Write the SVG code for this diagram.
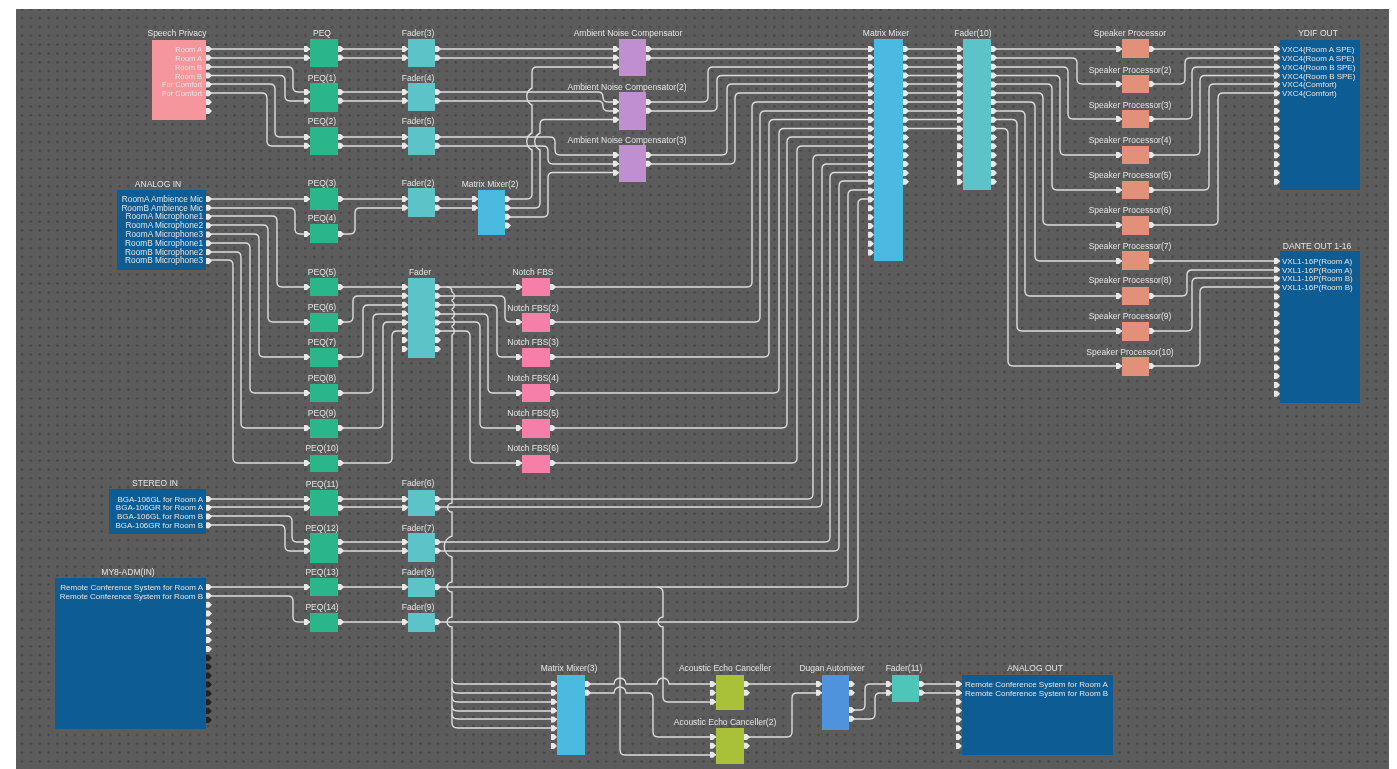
<svg xmlns="http://www.w3.org/2000/svg" xmlns:xlink="http://www.w3.org/1999/xlink" width="1397" height="769" viewBox="0 0 1397 769">
<style>
text{font-family:"Liberation Sans",Arial,sans-serif;font-size:8.5px;fill:#e4e4e4}
.c{text-anchor:middle}.r{text-anchor:end}
#stereo-in text:not(.c),#my8-in text:not(.c),#ydif-out text:not(.c),#dante-out text:not(.c),#analog-out text:not(.c){font-size:8px}
#analog-in text:not(.c){font-size:8.3px}
#speech-privacy text:not(.c){font-size:7.5px}
.w{fill:#e8e8e8}.k{fill:#222}
#conn path{fill:none;stroke:#dcdcdc;stroke-width:1.4;stroke-linecap:round}
.peq{fill:#2ab58a}.fad{fill:#5cc4c8}.mm{fill:#4bbae0}.anc{fill:#c08fd0}.notch{fill:#f57fa9}.sp{fill:#e2907a}.pan{fill:#0d5c94}.aec{fill:#a8c137}
</style>
<defs>
<pattern id="dots" width="8.85" height="8.85" patternUnits="userSpaceOnUse" patternTransform="translate(0 49)">
<circle cx="4.4" cy="4.4" r="1.3" fill="#464646"/>
</pattern>
<filter id="soft" x="0" y="0" width="100%" height="100%"><feGaussianBlur stdDeviation="0.45"/></filter>
<path id="i" d="M-6-3H-3L0 0-3 3H-6Z"/>
<path id="o" d="M0-3H3L6 0 3 3H0Z"/>
<g id="i2"><use href="#i"/><use href="#i" y="8.85"/></g>
<g id="o2"><use href="#o"/><use href="#o" y="8.85"/></g>
<g id="i3"><use href="#i2"/><use href="#i" y="17.7"/></g>
<g id="i8"><use href="#i2"/><use href="#i2" y="17.7"/><use href="#i2" y="35.4"/><use href="#i2" y="53.1"/></g>
<g id="o8"><use href="#o2"/><use href="#o2" y="17.7"/><use href="#o2" y="35.4"/><use href="#o2" y="53.1"/></g>
</defs>
<rect width="1397" height="769" fill="#fff"/>
<g filter="url(#soft)">
<rect x="16" y="9" width="1373" height="760" fill="#5c5c5c"/>
<rect x="16" y="9" width="1373" height="760" fill="url(#dots)"/>
<g id="conn">
<path d="M206 49H310M206 58H310M206 67H288q5 0 5 5V87q0 5 5 5H310M206 75.5H280q5 0 5 5V96q0 5 5 5H310M206 84H270q5 0 5 5V132q0 5 5 5H310M206 93H262q5 0 5 5V141q0 5 5 5H310"/>
<path d="M338 49H408M338 58H408M338 92H408M338 101H408M338 137H408M338 146H408"/>
<path d="M435 49H619M435 58H619M435 92H598q5 0 5 5q0 5 5 5H619M435 101H598q5 0 5 5q0 5 5 5H619M435 137H550q5 0 5 5V150q0 5 5 5H619M435 146H543q5 0 5 5V159q0 5 5 5H619"/>
<path d="M206 199H310M206 208H290q5 0 5 5V229q0 5 5 5H310M338 199H408M338 234H350q5 0 5-5V213q0-5 5-5H408M435 199H478M435 208H478"/>
<path d="M505 199H527q5 0 5-5V150a9.5 9.5 0 0 1 0-17V105a9.5 9.5 0 0 1 0-17V72q0-5 5-5H619"/>
<path d="M505 208H535q5 0 5-5V150a9.5 9.5 0 0 1 0-17V124.500q0-5 5-5H619"/>
<path d="M505 217H543q5 0 5-5V177.500q0-5 5-5H619"/>
<path d="M646 49H874M646 58H874M646 102H703q5 0 5-5V72q0-5 5-5H874M646 111H712q5 0 5-5V80.500q0-5 5-5H874M646 155H722q5 0 5-5V89q0-5 5-5H874M646 164H730q5 0 5-5V98q0-5 5-5H874"/>
<path d="M550 287H747q5 0 5-5V107q0-5 5-5H874M550 322H755q5 0 5-5V116q0-5 5-5H874M550 357H764q5 0 5-5V124.500q0-5 5-5H874M550 393H774q5 0 5-5V133.500q0-5 5-5H874M550 428H782q5 0 5-5V142q0-5 5-5H874M550 463H792q5 0 5-5V151q0-5 5-5H874"/>
<path d="M435 499H808q5 0 5-5V160q0-5 5-5H874M435 507H817q5 0 5-5V169q0-5 5-5H874M435 542H825q5 0 5-5V177.500q0-5 5-5H874M435 551H834q5 0 5-5V186q0-5 5-5H874M435 587H843q5 0 5-5V195q0-5 5-5H874M435 622H853q5 0 5-5V204q0-5 5-5H874"/>
<path d="M903 49H963M903 58H963M903 67H963M903 75.500H963M903 84H963M903 93H963M903 102H963M903 111H963M903 119.500H963M903 128.500H963"/>
<path d="M991 49H1122M991 58H1072q5 0 5 5V79q0 5 5 5H1122M991 67H1063q5 0 5 5V114q0 5 5 5H1122M991 75.500H1055q5 0 5 5V150q0 5 5 5H1122M991 84H1047q5 0 5 5V185q0 5 5 5H1122M991 93H1038q5 0 5 5V220q0 5 5 5H1122M991 102H1030q5 0 5 5V256q0 5 5 5H1122M991 111H1020q5 0 5 5V291q0 5 5 5H1122M991 119.500H1012q5 0 5 5V326q0 5 5 5H1122M991 128.500H1003q5 0 5 5V361q0 5 5 5H1122"/>
<path d="M1149 49H1280M1149 84H1180q5 0 5-5V63q0-5 5-5H1280M1149 119H1187q5 0 5-5V72q0-5 5-5H1280M1149 155H1195q5 0 5-5V80.500q0-5 5-5H1280M1149 190H1204q5 0 5-5V89q0-5 5-5H1280M1149 225H1213q5 0 5-5V98q0-5 5-5H1280"/>
<path d="M1149 261H1280M1149 296H1182q5 0 5-5V275q0-5 5-5H1280M1149 331H1187q5 0 5-5V283q0-5 5-5H1280M1149 366H1195q5 0 5-5V292q0-5 5-5H1280"/>
<path d="M206 216H272q5 0 5 5V282q0 5 5 5H310M206 225H263q5 0 5 5V317q0 5 5 5H310M206 234H254q5 0 5 5V352q0 5 5 5H310M206 243H245q5 0 5 5V388q0 5 5 5H310M206 252H236q5 0 5 5V423q0 5 5 5H310M206 260H228q5 0 5 5V458q0 5 5 5H310"/>
<path d="M338 287H408M338 322H348q5 0 5-5V301q0-5 5-5H408M338 357H358q5 0 5-5V310q0-5 5-5H408M338 393H368q5 0 5-5V319q0-5 5-5H408M338 428H378q5 0 5-5V327q0-5 5-5H408M338 463H387q5 0 5-5V336q0-5 5-5H408"/>
<path d="M435 287H522M435 296H500q5 0 5 5V317q0 5 5 5H522M435 305H492q5 0 5 5V352q0 5 5 5H522M435 314H483q5 0 5 5V388q0 5 5 5H522M435 322H475q5 0 5 5V423q0 5 5 5H522M435 331H465q5 0 5 5V458q0 5 5 5H522"/>
<path d="M206 499H310M206 507H310M206 516H287q5 0 5 5V537q0 5 5 5H310M206 525H280q5 0 5 5V546q0 5 5 5H310M206 587H310M206 596H288q5 0 5 5V617q0 5 5 5H310"/>
<path d="M338 499H408M338 507H408M338 542H408M338 551H408M338 587H408M338 622H408"/>
<path d="M447 287q5 0 5 5a4.500 4.500 0 0 1 0 8V301a4.500 4.500 0 0 1 0 8V310a4.500 4.500 0 0 1 0 8a4.500 4.500 0 0 1 0 8V327a4.500 4.500 0 0 1 0 8V503a4.500 4.500 0 0 0 0 9V536a11 11 0 0 0 0 21V582a5 5 0 0 0 0 10V617a5 5 0 0 0 0 10V723q0 5 6 5H557"/>
<path d="M452 679q0 5 6 5H557M452 688q0 5 6 5H557M452 697q0 5 6 5H557M452 706q0 5 6 5H557M452 714q0 5 6 5H557"/>
<path d="M657 587q6 0 6 6V617a5 5 0 0 0 0 10V697q0 5 5 5H716"/>
<path d="M614 622q6 0 6 6V750q0 5 5 5H716"/>
<path d="M585 684H614a6 6 0 0 1 12 0H657a6 6 0 0 1 12 0H716M585 693H614a6 6 0 0 1 12 0H648q5 0 5 5V732q0 5 5 5H716"/>
<path d="M744 684H822M744 737H787q5 0 5-5V698q0-5 5-5H822M849 710H860q5 0 5-5V689q0-5 5-5H892M849 719H870q5 0 5-5V698q0-5 5-5H892M919 684H962M919 693H962"/>
</g>
<g id="speech-privacy"><rect x="152" y="40" width="54" height="80" fill="#f5959c"/><text class="c" x="177" y="36">Speech Privacy</text>
<text class="r" x="202" y="52">Room A</text><text class="r" x="202" y="61">Room A</text><text class="r" x="202" y="70">Room B</text><text class="r" x="202" y="78.500">Room B</text><text class="r" x="202" y="87">For Comfort</text><text class="r" x="202" y="96">For Comfort</text>
<use href="#o8" class="w" x="206" y="49"/></g>
<g id="analog-in"><rect x="117" y="190" width="89" height="80" class="pan"/><text class="c" x="158" y="187">ANALOG IN</text>
<text class="r" x="203" y="202">RoomA Ambience Mic</text><text class="r" x="203" y="211">RoomB Ambience Mic</text><text class="r" x="203" y="219">RoomA Microphone1</text><text class="r" x="203" y="228">RoomA Microphone2</text><text class="r" x="203" y="237">RoomA Microphone3</text><text class="r" x="203" y="246">RoomB Microphone1</text><text class="r" x="203" y="255">RoomB Microphone2</text><text class="r" x="203" y="263">RoomB Microphone3</text>
<use href="#o8" class="w" x="206" y="199"/></g>
<g id="stereo-in"><rect x="109" y="489" width="97" height="45" class="pan"/><text class="c" x="155" y="486">STEREO IN</text>
<text class="r" x="203" y="502">BGA-106GL for Room A</text><text class="r" x="203" y="510">BGA-106GR for Room A</text><text class="r" x="203" y="519">BGA-106GL for Room B</text><text class="r" x="203" y="528">BGA-106GR for Room B</text>
<use href="#o2" class="w" x="206" y="499"/><use href="#o2" class="w" x="206" y="516.500"/></g>
<g id="my8-in"><rect x="55" y="578" width="151" height="151" class="pan"/><text class="c" x="128" y="575">MY8-ADM(IN)</text>
<text class="r" x="203" y="590">Remote Conference System for Room A</text><text class="r" x="203" y="599">Remote Conference System for Room B</text>
<use href="#o8" class="w" x="206" y="587"/><use href="#o8" class="k" x="206" y="658"/></g>
<g id="peq"><rect x="310" y="39" width="28" height="28" class="peq"/><text class="c" x="322" y="36">PEQ</text><use href="#i2" class="w" x="310" y="49"/><use href="#o2" class="w" x="338" y="49"/></g>
<g id="peq1"><rect x="310" y="83" width="28" height="29" class="peq"/><text class="c" x="322" y="81">PEQ(1)</text><use href="#i2" class="w" x="310" y="92"/><use href="#o2" class="w" x="338" y="92"/></g>
<g id="peq2"><rect x="310" y="127" width="28" height="28" class="peq"/><text class="c" x="322" y="124">PEQ(2)</text><use href="#i2" class="w" x="310" y="137"/><use href="#o2" class="w" x="338" y="137"/></g>
<g id="peq3"><rect x="310" y="188" width="28" height="22" class="peq"/><text class="c" x="322" y="186">PEQ(3)</text><use href="#i" class="w" x="310" y="199"/><use href="#o" class="w" x="338" y="199"/></g>
<g id="peq4"><rect x="310" y="224" width="28" height="19" class="peq"/><text class="c" x="322" y="221">PEQ(4)</text><use href="#i" class="w" x="310" y="234"/><use href="#o" class="w" x="338" y="234"/></g>
<g id="peq5"><rect x="310" y="278" width="28" height="18" class="peq"/><text class="c" x="322" y="275">PEQ(5)</text><use href="#i" class="w" x="310" y="287"/><use href="#o" class="w" x="338" y="287"/></g>
<g id="peq6"><rect x="310" y="313" width="28" height="19" class="peq"/><text class="c" x="322" y="310">PEQ(6)</text><use href="#i" class="w" x="310" y="322"/><use href="#o" class="w" x="338" y="322"/></g>
<g id="peq7"><rect x="310" y="348" width="28" height="19" class="peq"/><text class="c" x="322" y="345">PEQ(7)</text><use href="#i" class="w" x="310" y="357"/><use href="#o" class="w" x="338" y="357"/></g>
<g id="peq8"><rect x="310" y="384" width="28" height="18" class="peq"/><text class="c" x="322" y="381">PEQ(8)</text><use href="#i" class="w" x="310" y="393"/><use href="#o" class="w" x="338" y="393"/></g>
<g id="peq9"><rect x="310" y="419" width="28" height="19" class="peq"/><text class="c" x="322" y="416">PEQ(9)</text><use href="#i" class="w" x="310" y="428"/><use href="#o" class="w" x="338" y="428"/></g>
<g id="peq10"><rect x="310" y="455" width="28" height="17" class="peq"/><text class="c" x="322" y="451">PEQ(10)</text><use href="#i" class="w" x="310" y="463"/><use href="#o" class="w" x="338" y="463"/></g>
<g id="peq11"><rect x="310" y="490" width="28" height="26" class="peq"/><text class="c" x="322" y="487">PEQ(11)</text><use href="#i2" class="w" x="310" y="499"/><use href="#o2" class="w" x="338" y="499"/></g>
<g id="peq12"><rect x="310" y="533" width="28" height="30" class="peq"/><text class="c" x="322" y="531">PEQ(12)</text><use href="#i2" class="w" x="310" y="542"/><use href="#o2" class="w" x="338" y="542"/></g>
<g id="peq13"><rect x="310" y="578" width="28" height="18" class="peq"/><text class="c" x="322" y="575">PEQ(13)</text><use href="#i" class="w" x="310" y="587"/><use href="#o" class="w" x="338" y="587"/></g>
<g id="peq14"><rect x="310" y="613" width="28" height="19" class="peq"/><text class="c" x="322" y="610">PEQ(14)</text><use href="#i" class="w" x="310" y="622"/><use href="#o" class="w" x="338" y="622"/></g>
<g id="fader3"><rect x="408" y="39" width="27" height="28" class="fad"/><text class="c" x="418" y="36">Fader(3)</text><use href="#i2" class="w" x="408" y="49"/><use href="#o2" class="w" x="435" y="49"/></g>
<g id="fader4"><rect x="408" y="83" width="27" height="28" class="fad"/><text class="c" x="418" y="81">Fader(4)</text><use href="#i2" class="w" x="408" y="92"/><use href="#o2" class="w" x="435" y="92"/></g>
<g id="fader5"><rect x="408" y="127" width="27" height="28" class="fad"/><text class="c" x="418" y="124">Fader(5)</text><use href="#i2" class="w" x="408" y="137"/><use href="#o2" class="w" x="435" y="137"/></g>
<g id="fader2"><rect x="408" y="188" width="27" height="29" class="fad"/><text class="c" x="418" y="186">Fader(2)</text><use href="#i2" class="w" x="408" y="199"/><use href="#o2" class="w" x="435" y="199"/></g>
<g id="fader"><rect x="408" y="278" width="27" height="80" class="fad"/><text class="c" x="420" y="275">Fader</text><use href="#i8" class="w" x="408" y="287"/><use href="#o8" class="w" x="435" y="287"/></g>
<g id="fader6"><rect x="408" y="490" width="27" height="26" class="fad"/><text class="c" x="418" y="486">Fader(6)</text><use href="#i2" class="w" x="408" y="499"/><use href="#o2" class="w" x="435" y="499"/></g>
<g id="fader7"><rect x="408" y="533" width="27" height="29" class="fad"/><text class="c" x="418" y="531">Fader(7)</text><use href="#i2" class="w" x="408" y="542"/><use href="#o2" class="w" x="435" y="542"/></g>
<g id="fader8"><rect x="408" y="578" width="27" height="19" class="fad"/><text class="c" x="418" y="575">Fader(8)</text><use href="#i" class="w" x="408" y="587"/><use href="#o" class="w" x="435" y="587"/></g>
<g id="fader9"><rect x="408" y="613" width="27" height="19" class="fad"/><text class="c" x="418" y="610">Fader(9)</text><use href="#i" class="w" x="408" y="622"/><use href="#o" class="w" x="435" y="622"/></g>
<g id="matrix-mixer2"><rect x="478" y="190" width="27" height="45" class="mm"/><text class="c" x="490" y="187">Matrix Mixer(2)</text><use href="#i2" class="w" x="478" y="199"/><use href="#o2" class="w" x="505" y="199"/><use href="#o2" class="w" x="505" y="216.700"/></g>
<g id="anc1"><rect x="619" y="39" width="27" height="37" class="anc"/><text class="c" x="628" y="36">Ambient Noise Compensator</text><use href="#i3" class="w" x="619" y="49"/><use href="#o2" class="w" x="646" y="49"/></g>
<g id="anc2"><rect x="619" y="92" width="27" height="38" class="anc"/><text class="c" x="627" y="90">Ambient Noise Compensator(2)</text><use href="#i3" class="w" x="619" y="102"/><use href="#o2" class="w" x="646" y="102"/></g>
<g id="anc3"><rect x="619" y="145" width="27" height="37" class="anc"/><text class="c" x="627" y="143">Ambient Noise Compensator(3)</text><use href="#i3" class="w" x="619" y="155"/><use href="#o2" class="w" x="646" y="155"/></g>
<g id="notch1"><rect x="522" y="278" width="28" height="18" class="notch"/><text class="c" x="533" y="275">Notch FBS</text><use href="#i" class="w" x="522" y="287"/><use href="#o" class="w" x="550" y="287"/></g>
<g id="notch2"><rect x="522" y="313" width="28" height="19" class="notch"/><text class="c" x="533" y="311">Notch FBS(2)</text><use href="#i" class="w" x="522" y="322"/><use href="#o" class="w" x="550" y="322"/></g>
<g id="notch3"><rect x="522" y="348" width="28" height="19" class="notch"/><text class="c" x="533" y="345">Notch FBS(3)</text><use href="#i" class="w" x="522" y="357"/><use href="#o" class="w" x="550" y="357"/></g>
<g id="notch4"><rect x="522" y="384" width="28" height="18" class="notch"/><text class="c" x="533" y="381">Notch FBS(4)</text><use href="#i" class="w" x="522" y="393"/><use href="#o" class="w" x="550" y="393"/></g>
<g id="notch5"><rect x="522" y="419" width="28" height="19" class="notch"/><text class="c" x="533" y="416">Notch FBS(5)</text><use href="#i" class="w" x="522" y="428"/><use href="#o" class="w" x="550" y="428"/></g>
<g id="notch6"><rect x="522" y="455" width="28" height="18" class="notch"/><text class="c" x="533" y="451">Notch FBS(6)</text><use href="#i" class="w" x="522" y="463"/><use href="#o" class="w" x="550" y="463"/></g>
<g id="matrix-mixer"><rect x="874" y="39" width="29" height="222" class="mm"/><text class="c" x="886" y="36">Matrix Mixer</text><use href="#i8" class="w" x="874" y="49"/><use href="#i8" class="w" x="874" y="119.800"/><use href="#i8" class="w" x="874" y="190.600"/><use href="#o8" class="w" x="903" y="49"/><use href="#o8" class="w" x="903" y="119.800"/></g>
<g id="fader10"><rect x="963" y="39" width="28" height="151" class="fad"/><text class="c" x="973" y="36">Fader(10)</text><use href="#i8" class="w" x="963" y="49"/><use href="#i8" class="w" x="963" y="119.800"/><use href="#o8" class="w" x="991" y="49"/><use href="#o8" class="w" x="991" y="119.800"/></g>
<g id="sp1"><rect x="1122" y="39" width="27" height="19" class="sp"/><text class="c" x="1130" y="36">Speaker Processor</text><use href="#i" class="w" x="1122" y="49"/><use href="#o" class="w" x="1149" y="49"/></g>
<g id="sp2"><rect x="1122" y="75" width="27" height="18" class="sp"/><text class="c" x="1130" y="73">Speaker Processor(2)</text><use href="#i" class="w" x="1122" y="84"/><use href="#o" class="w" x="1149" y="84"/></g>
<g id="sp3"><rect x="1122" y="110" width="27" height="18" class="sp"/><text class="c" x="1130" y="108">Speaker Processor(3)</text><use href="#i" class="w" x="1122" y="119"/><use href="#o" class="w" x="1149" y="119"/></g>
<g id="sp4"><rect x="1122" y="146" width="27" height="18" class="sp"/><text class="c" x="1130" y="143">Speaker Processor(4)</text><use href="#i" class="w" x="1122" y="155"/><use href="#o" class="w" x="1149" y="155"/></g>
<g id="sp5"><rect x="1122" y="181" width="27" height="18" class="sp"/><text class="c" x="1130" y="178">Speaker Processor(5)</text><use href="#i" class="w" x="1122" y="190"/><use href="#o" class="w" x="1149" y="190"/></g>
<g id="sp6"><rect x="1122" y="216" width="27" height="19" class="sp"/><text class="c" x="1130" y="213">Speaker Processor(6)</text><use href="#i" class="w" x="1122" y="225"/><use href="#o" class="w" x="1149" y="225"/></g>
<g id="sp7"><rect x="1122" y="251" width="27" height="19" class="sp"/><text class="c" x="1130" y="249">Speaker Processor(7)</text><use href="#i" class="w" x="1122" y="261"/><use href="#o" class="w" x="1149" y="261"/></g>
<g id="sp8"><rect x="1122" y="287" width="27" height="18" class="sp"/><text class="c" x="1130" y="283">Speaker Processor(8)</text><use href="#i" class="w" x="1122" y="296"/><use href="#o" class="w" x="1149" y="296"/></g>
<g id="sp9"><rect x="1122" y="322" width="27" height="19" class="sp"/><text class="c" x="1130" y="319">Speaker Processor(9)</text><use href="#i" class="w" x="1122" y="331"/><use href="#o" class="w" x="1149" y="331"/></g>
<g id="sp10"><rect x="1122" y="357" width="27" height="19" class="sp"/><text class="c" x="1130" y="355">Speaker Processor(10)</text><use href="#i" class="w" x="1122" y="366"/><use href="#o" class="w" x="1149" y="366"/></g>
<g id="ydif-out"><rect x="1280" y="40" width="80" height="150" class="pan"/><text class="c" x="1318" y="36">YDIF OUT</text>
<text x="1282" y="52">VXC4(Room A SPE)</text><text x="1282" y="61">VXC4(Room A SPE)</text><text x="1282" y="70">VXC4(Room B SPE)</text><text x="1282" y="78.500">VXC4(Room B SPE)</text><text x="1282" y="87">VXC4(Comfort)</text><text x="1282" y="96">VXC4(Comfort)</text>
<use href="#i8" class="w" x="1280" y="49"/><use href="#i8" class="w" x="1280" y="119.800"/></g>
<g id="dante-out"><rect x="1280" y="251" width="80" height="152" class="pan"/><text class="c" x="1317" y="249">DANTE OUT 1-16</text>
<text x="1282" y="264">VXL1-16P(Room A)</text><text x="1282" y="273">VXL1-16P(Room A)</text><text x="1282" y="281">VXL1-16P(Room B)</text><text x="1282" y="290">VXL1-16P(Room B)</text>
<use href="#i8" class="w" x="1280" y="261"/><use href="#i8" class="w" x="1280" y="331.800"/></g>
<g id="matrix-mixer3"><rect x="557" y="675" width="28" height="80" class="mm"/><text class="c" x="569" y="671">Matrix Mixer(3)</text><use href="#i8" class="w" x="557" y="684"/><use href="#o2" class="w" x="585" y="684"/></g>
<g id="aec1"><rect x="716" y="675" width="28" height="35" class="aec"/><text class="c" x="725" y="671">Acoustic Echo Canceller</text><use href="#i3" class="w" x="716" y="684"/><use href="#o2" class="w" x="744" y="684"/></g>
<g id="aec2"><rect x="716" y="728" width="28" height="36" class="aec"/><text class="c" x="725" y="725">Acoustic Echo Canceller(2)</text><use href="#i3" class="w" x="716" y="737"/><use href="#o2" class="w" x="744" y="737"/></g>
<g id="dugan"><rect x="822" y="675" width="27" height="55" fill="#4f93dc"/><text class="c" x="832" y="671">Dugan Automixer</text><use href="#i2" class="w" x="822" y="684"/><use href="#o2" class="w" x="849" y="684"/><use href="#o2" class="w" x="849" y="710"/></g>
<g id="fader11"><rect x="892" y="675" width="27" height="27" fill="#50c5b9"/><text class="c" x="904" y="671">Fader(11)</text><use href="#i2" class="w" x="892" y="684"/><use href="#o2" class="w" x="919" y="684"/></g>
<g id="analog-out"><rect x="962" y="675" width="151" height="80" class="pan"/><text class="c" x="1035" y="671">ANALOG OUT</text>
<text x="965" y="687">Remote Conference System for Room A</text><text x="965" y="696">Remote Conference System for Room B</text>
<use href="#i8" class="w" x="962" y="684"/></g>
</g>
</svg>
